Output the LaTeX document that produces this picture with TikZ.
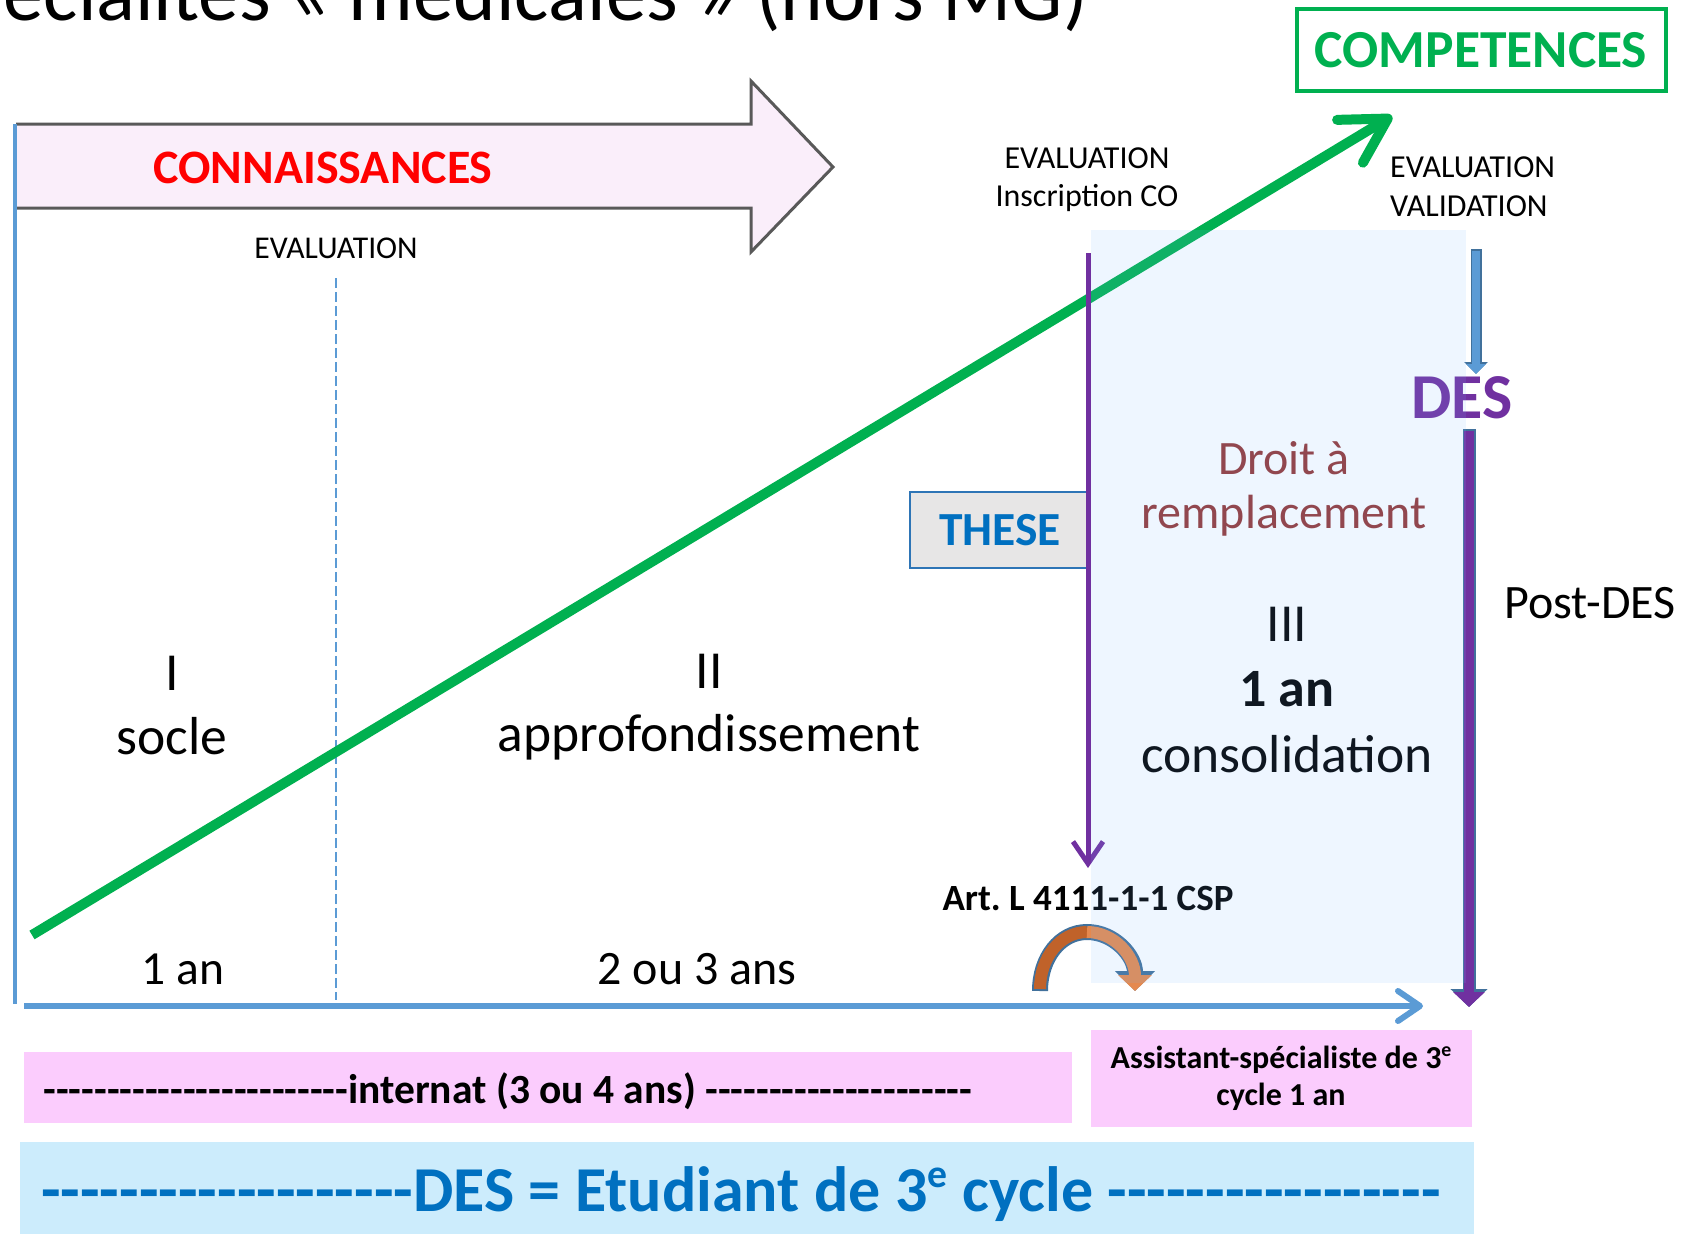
\documentclass[tikz,border=0pt]{standalone}
\usepackage{fontspec}
\setmainfont{Carlito}
\newfontfamily\dashfont{Carlito}
\usetikzlibrary{positioning, arrows.meta, calc}
\pgfdeclarelayer{background}
\pgfdeclarelayer{foreground}
\pgfsetlayers{background,main,foreground}
\definecolor{axisblue}{RGB}{91,155,213}
\definecolor{edgeblue}{RGB}{65,113,156}
\definecolor{compgreen}{RGB}{0,176,80}
\definecolor{despurple}{RGB}{112,48,160}
\definecolor{textblue}{RGB}{0,112,192}
\definecolor{thesebord}{RGB}{46,117,182}
\definecolor{thesegray}{RGB}{231,230,230}
\definecolor{pinkfill}{RGB}{251,204,253}
\definecolor{barblue}{RGB}{204,236,252}
\definecolor{arrowpink}{RGB}{250,238,250}
\definecolor{zonefill}{RGB}{120,185,255}
\definecolor{droitred}{RGB}{149,55,53}
\definecolor{orangedark}{RGB}{192,98,42}
\definecolor{orangelight}{RGB}{229,137,79}
\newcommand{\Fs}[1]{\fontsize{#1}{#1}\selectfont}
\newcommand{\Dashes}[1]{{\dashfont #1}}
\newcommand{\Sup}[1]{\raisebox{0.36em}{\fontsize{0.62em}{0.62em}\selectfont #1}}
\tikzset{
    lbl/.style={inner sep=0pt, anchor=base},
    axis/.style={draw=axisblue, line width=6pt, -{Straight Barb[length=22pt,width=30pt,round]}},
    growarrow/.style={draw=compgreen, line width=10pt, -{Straight Barb[length=44pt,width=50pt,round]}},
    evalarrow/.style={draw=despurple, line width=5pt, -{Straight Barb[length=22pt,width=30pt]}},
}

\begin{document}
\begin{tikzpicture}[x=1pt, y=-1pt]
    \useasboundingbox (0,0) rectangle (1690,1234);
    \clip (0,0) rectangle (1690,1234);

    \node[lbl, anchor=base east, font=\Fs{81}] (title) at (1088,20) {Spécialités « médicales » (hors MG)};

    % connaissances
    \filldraw[fill=arrowpink, draw=black!65, line width=3pt]
      (16,124) -- (751,124) -- (751,81) -- (833,167) -- (751,252) -- (751,208) -- (16,208);
    \node[lbl, font=\Fs{48}\bfseries, text=red] (conn) at (323,183) {CONNAISSANCES};

    \node[draw=compgreen, line width=4pt, minimum width=369pt, minimum height=82pt,
      font=\Fs{53.5}\bfseries, text=compgreen] (comp) at (1481,50) {COMPETENCES};

    % axes
    \coordinate (top) at (15,124);
    \coordinate (bot) at (15,1004);
    \draw[axisblue, line width=4pt] (top) -- (bot);
    \coordinate (o) at (24,1006);
    \coordinate (tEnd) at (1423,1006);
    \draw[axis] (o) -- (tEnd);
    \coordinate (e1) at (336,278);
    \coordinate (e1b) at (336,1000);
    \draw[axisblue, line width=1.2pt, dash pattern=on 10pt off 4pt] (e1) -- (e1b);

    \node[lbl, font=\Fs{31.7}] (ev1) at (336,258) {EVALUATION};
    \node[lbl, font=\Fs{32}] (ev2) at (1087,168) {EVALUATION};
    \node[lbl, font=\Fs{32}] (ev2b) at ($(ev2.base)+(0,38)$) {Inscription CO};
    \node[lbl, anchor=base west, font=\Fs{32}] (ev3) at (1390,177) {EVALUATION};
    \node[lbl, anchor=base west, font=\Fs{32}] (ev3b) at ($(ev3.base west)+(0,39)$) {VALIDATION};

    % phases
    \node[lbl, font=\Fs{53.5}] (p1) at (172,690) {I};
    \node[lbl, font=\Fs{53.5}] (p1b) at ($(p1.base)+(0,64)$) {socle};
    \node[lbl, font=\Fs{53.5}] (p2) at (709,688) {II};
    \node[lbl, font=\Fs{53.5}] (p2b) at ($(p2.base)+(0,63)$) {approfondissement};
    \node[lbl, font=\Fs{53.5}] (p3) at (1287,641) {III};
    \node[lbl, font=\Fs{54}\bfseries] (p3b) at ($(p3.base)+(0,65)$) {1 an};
    \node[lbl, font=\Fs{53.5}] (p3c) at ($(p3b.base)+(0,66)$) {consolidation};
    \node[lbl, font=\Fs{48}, text=droitred] (dr) at (1284,474) {Droit à};
    \node[lbl, font=\Fs{48}, text=droitred] (drb) at ($(dr.base)+(0,54)$) {remplacement};
    \node[lbl, font=\Fs{48}] (post) at (1590,618) {Post-DES};
    \node[lbl, font=\Fs{47.5}] (y1) at (183,984) {1 an};
    \node[lbl, font=\Fs{48}] (y2) at (697,984) {2 ou 3 ans};
    \node[lbl, font=\Fs{37}\bfseries] (art) at (1088,910) {Art.\ L 4111-1-1 CSP};

    \node[draw=thesebord, line width=2pt, fill=thesegray, minimum width=180pt, minimum height=76pt,
      font=\Fs{47.5}\bfseries, text=textblue] (these) at (1000,530) {THESE};
    \node[lbl, font=\Fs{64}\bfseries, text=despurple] (des) at (1462,418) {DES};

    % competences
    \coordinate (g0) at (32,935);
    \coordinate (g1) at (1392,116);
    \draw[growarrow] (g0) -- (g1);

    % evaluations
    \coordinate (c0) at (1088,253);
    \coordinate (c1) at (1088,868);
    \draw[evalarrow] (c0) -- (c1);
    \coordinate (v0) at (1476,249);
    \coordinate (v1) at (1476,374);
    \draw[edgeblue, line width=11pt, -{Triangle[length=12pt,width=23pt]}] (v0) -- (v1);
    \draw[axisblue, line width=8pt, shorten <=1.5pt, -{Triangle[length=10pt,width=19pt]}] (v0) -- (v1);
    \coordinate (d0) at (1469,429);
    \coordinate (d1) at (1469,1007);
    \draw[edgeblue, line width=13pt, -{Triangle[length=18pt,width=36pt]}] (d0) -- (d1);
    \draw[despurple, line width=10pt, shorten <=1.5pt, -{Triangle[length=15pt,width=31pt]}] (d0) -- (d1);

    % jump
    \coordinate (oa) at (1040,991);
    \coordinate (ob) at (1087,932);
    \coordinate (oc) at (1135,991);
    \draw[edgeblue, line width=16pt, -{Triangle[length=20pt,width=39pt]}]
      (oa) .. controls (1040,958) and (1060,932) .. (ob) .. controls (1114,932) and (1135,956) .. (oc);
    \draw[orangedark, line width=12pt, shorten <=2pt] (oa) .. controls (1040,958) and (1060,932) .. (ob);
    \draw[orangelight, line width=12pt, -{Triangle[length=16pt,width=33pt]}] (ob) .. controls (1114,932) and (1135,956) .. (oc);

    % bottom bands
    \fill[pinkfill] (24,1052) rectangle (1072,1123);
    \node[lbl, font=\Fs{41.5}\bfseries] (intern) at (508,1103)
      {\Dashes{------------------------}internat (3 ou 4 ans) \Dashes{---------------------}};
    \node[fill=pinkfill, minimum width=381pt, minimum height=97pt, align=center, inner sep=0pt,
      font=\fontsize{32}{37}\selectfont\bfseries] (asst) at (1281,1078)
      {Assistant-spécialiste de 3\Sup{e}\\cycle 1 an};
    \fill[barblue] (20,1142) rectangle (1474,1240);
    \node[lbl, font=\Fs{64}\bfseries, text=textblue] (etud) at (741,1211)
      {\Dashes{-------------------}DES = Etudiant de 3\Sup{e} cycle \Dashes{-----------------}};

    \begin{pgfonlayer}{foreground}
      \fill[zonefill, opacity=0.13] (1091,230) rectangle (1466,983);
    \end{pgfonlayer}
\end{tikzpicture}
\end{document}
